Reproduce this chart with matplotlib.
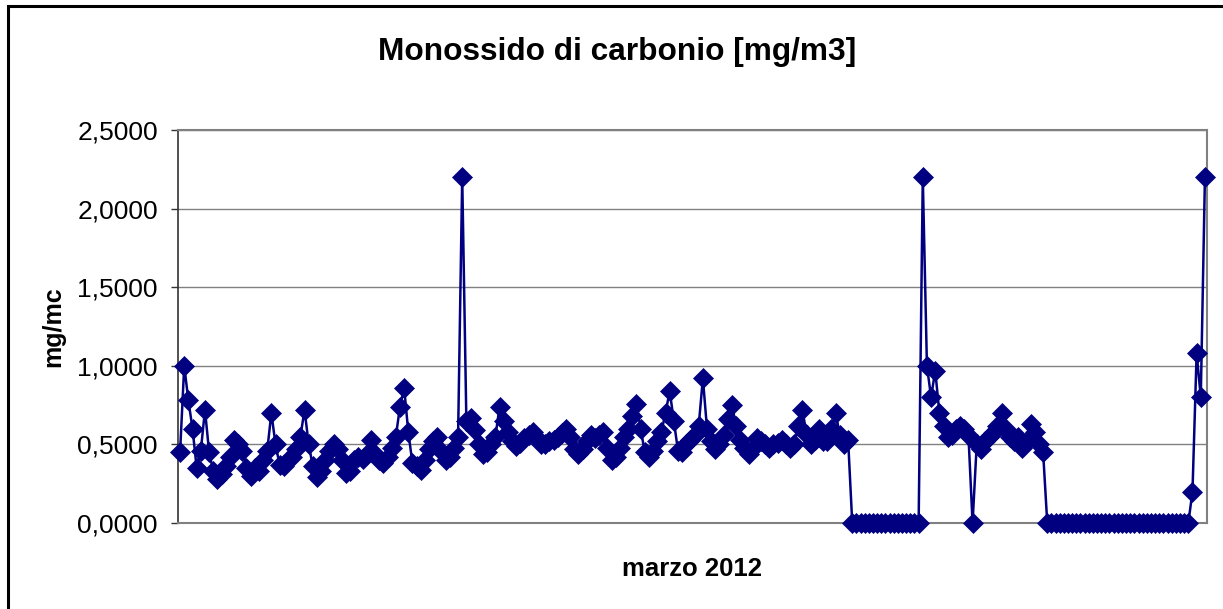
#!/usr/bin/env python3
"""
Monossido di carbonio - marzo 2012
Line chart with diamond markers, Excel-like look.
"""

import matplotlib
matplotlib.use("Agg")
import matplotlib.pyplot as plt
from matplotlib.patches import Rectangle
from matplotlib.ticker import FuncFormatter

# -------------------- DATA -------------------- #
title_text = "Monossido di carbonio [mg/m3]"
y_label = "mg/mc"
x_label = "marzo 2012"

y_ticks = [0.0, 0.5, 1.0, 1.5, 2.0, 2.5]

# CO readings (mg/m3), one every 3 hours
co_values = [
    0.45, 1.00, 0.78, 0.60, 0.35, 0.46, 0.72, 0.45, 0.33, 0.28,
    0.31, 0.36, 0.42, 0.53, 0.50, 0.46, 0.35, 0.30, 0.35, 0.33,
    0.40, 0.46, 0.70, 0.50, 0.37, 0.36, 0.40, 0.42, 0.47, 0.55,
    0.72, 0.50, 0.36, 0.29, 0.33, 0.40, 0.46, 0.50, 0.47, 0.40,
    0.32, 0.33, 0.40, 0.42, 0.41, 0.44, 0.53, 0.44, 0.40, 0.38,
    0.42, 0.48, 0.55, 0.74, 0.86, 0.58, 0.38, 0.36, 0.34, 0.40,
    0.47, 0.52, 0.55, 0.46, 0.40, 0.42, 0.48, 0.55, 2.20, 0.65,
    0.67, 0.59, 0.50, 0.44, 0.45, 0.50, 0.55, 0.74, 0.65, 0.58,
    0.52, 0.49, 0.51, 0.54, 0.56, 0.58, 0.54, 0.50, 0.50, 0.52,
    0.53, 0.55, 0.57, 0.60, 0.55, 0.47, 0.44, 0.47, 0.52, 0.56,
    0.54, 0.56, 0.58, 0.48, 0.40, 0.42, 0.48, 0.55, 0.60, 0.68,
    0.76, 0.60, 0.45, 0.42, 0.46, 0.52, 0.58, 0.70, 0.84, 0.65,
    0.46, 0.45, 0.50, 0.53, 0.56, 0.62, 0.92, 0.60, 0.52, 0.47,
    0.50, 0.56, 0.66, 0.75, 0.62, 0.53, 0.48, 0.44, 0.48, 0.54,
    0.52, 0.50, 0.48, 0.50, 0.51, 0.53, 0.50, 0.48, 0.50, 0.62,
    0.72, 0.56, 0.50, 0.53, 0.60, 0.52, 0.52, 0.60, 0.70, 0.56,
    0.50, 0.53,
    # instrument off
    0.00, 0.00, 0.00, 0.00, 0.00, 0.00, 0.00, 0.00, 0.00, 0.00,
    0.00, 0.00, 0.00, 0.00, 0.00, 0.00, 0.00,
    2.20, 1.00, 0.80, 0.97, 0.70, 0.62, 0.55, 0.56, 0.60, 0.62,
    0.60, 0.56, 0.00, 0.50, 0.47, 0.52, 0.55, 0.57, 0.62, 0.70,
    0.60, 0.55, 0.52, 0.55, 0.48, 0.52, 0.63, 0.58, 0.50, 0.45,
    # instrument off again
    0.00, 0.00, 0.00, 0.00, 0.00, 0.00, 0.00, 0.00, 0.00, 0.00,
    0.00, 0.00, 0.00, 0.00, 0.00, 0.00, 0.00, 0.00, 0.00, 0.00,
    0.00, 0.00, 0.00, 0.00, 0.00, 0.00, 0.00, 0.00, 0.00, 0.00,
    0.00, 0.00, 0.00, 0.00, 0.00,
    0.20, 1.08, 0.80, 2.20,
]

# -------------------- STYLE -------------------- #
W, H = 1223, 609
navy = "#000080"
grid_grey = "#808080"

plt.rcParams["font.family"] = ["Liberation Sans", "DejaVu Sans"]


def comma_fmt(v, _pos):
    return f"{v:.4f}".replace(".", ",")


def main():
    fig = plt.figure(figsize=(W / 100, H / 100), dpi=100)

    # outer chart frame (cut on right / bottom like the original)
    fig.patches.append(Rectangle((8 / W, -0.05), 1.1, 1 - 6 / 609 + 0.05,
                                 transform=fig.transFigure, fill=False,
                                 edgecolor="black", linewidth=2.2))

    ax = fig.add_axes([178 / W, 1 - 523 / H, (1207 - 178) / W, (523 - 130) / H])

    x = list(range(len(co_values)))
    ax.plot(x, co_values, color=navy, linewidth=1.8, marker="D",
            markersize=10, markerfacecolor=navy, markeredgecolor=navy,
            markeredgewidth=0.5, clip_on=False, zorder=3)

    ax.set_xlim(-0.5, len(co_values) - 0.5)
    ax.set_ylim(0, 2.5)
    ax.set_yticks(y_ticks)
    ax.yaxis.set_major_formatter(FuncFormatter(comma_fmt))
    ax.set_xticks([])

    ax.grid(axis="y", color=grid_grey, linewidth=1.0)
    ax.set_axisbelow(True)

    for side in ["top", "right", "bottom"]:
        ax.spines[side].set_color(grid_grey)
        ax.spines[side].set_linewidth(1.5)
    ax.spines["left"].set_color("#333333")
    ax.spines["left"].set_linewidth(1.2)

    ax.tick_params(axis="y", direction="out", length=5, width=1,
                   color="#333333", labelsize=19, pad=9.5)

    fig.text(617 / W, 1 - 52 / H, title_text, ha="center", va="center",
             fontsize=22.8, fontweight="bold")
    fig.text(53 / W, 1 - 327 / H, y_label, ha="center", va="center",
             rotation=90, fontsize=18, fontweight="bold")
    fig.text(692 / W, 1 - 569 / H, x_label, ha="center", va="center",
             fontsize=18.5, fontweight="bold")

    fig.savefig("out.png", dpi=100)


if __name__ == "__main__":
    main()
